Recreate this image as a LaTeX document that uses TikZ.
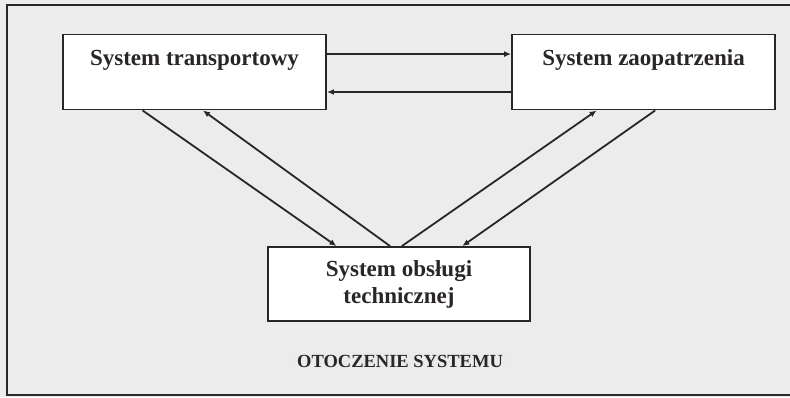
\documentclass[tikz,border=0pt]{standalone}
\usepackage{fontspec}
\setmainfont{Liberation Serif}
\usetikzlibrary{calc,arrows.meta}
\definecolor{bgpaper}{HTML}{ECECEC}
\definecolor{ink}{HTML}{2A2626}
\begin{document}
\begin{tikzpicture}[x=1pt,y=-1pt,
  sysbox/.style={draw=ink,line width=1.9pt,fill=white,inner xsep=0pt,inner ysep=0pt,
    font=\bfseries\fontsize{23}{27}\selectfont,text=ink},
  flow/.style={draw=ink,line width=1.8pt,-{Latex[length=7pt,width=6pt]}}]
\useasboundingbox (0,0) rectangle (790,397);
\fill[bgpaper] (0,0) rectangle (790,397);
\draw[ink,line width=1.9pt] (790,5) -- (7,5) -- (7,395) -- (790,395);
\node[sysbox,minimum width=263pt,text height=31pt,text depth=44pt] (t) at (194.5,72) {System transportowy};
\node[sysbox,minimum width=263pt,text height=31pt,text depth=44pt] (z) at (643.5,72) {System zaopatrzenia};
\node[sysbox,minimum width=262pt,minimum height=74pt,align=center] (o) at (399,284) {System obsługi\\technicznej};
\node[font=\bfseries\fontsize{18.5}{20}\selectfont,text=ink,fill=gray!16,inner xsep=10pt,inner ysep=5pt] (env) at (400,361) {OTOCZENIE SYSTEMU};
% top connectors
\draw[flow] ($(t.north east)!0.267!(t.south east)$) -- ($(z.north west)!0.267!(z.south west)$);
\draw[flow] ($(z.north west)!0.76!(z.south west)$) -- ($(t.north east)!0.76!(t.south east)$);
% left connectors
\draw[flow] ($(t.south west)!0.304!(t.south east)$) -- ($(o.north west)!0.263!(o.north east)$);
\draw[flow] ($(o.north west)!0.466!(o.north east)$) -- ($(t.south west)!0.532!(t.south east)$);
% right connectors
\draw[flow] ($(o.north west)!0.511!(o.north east)$) -- ($(z.south west)!0.323!(z.south east)$);
\draw[flow] ($(z.south west)!0.544!(z.south east)$) -- ($(o.north west)!0.740!(o.north east)$);
\end{tikzpicture}
\end{document}
